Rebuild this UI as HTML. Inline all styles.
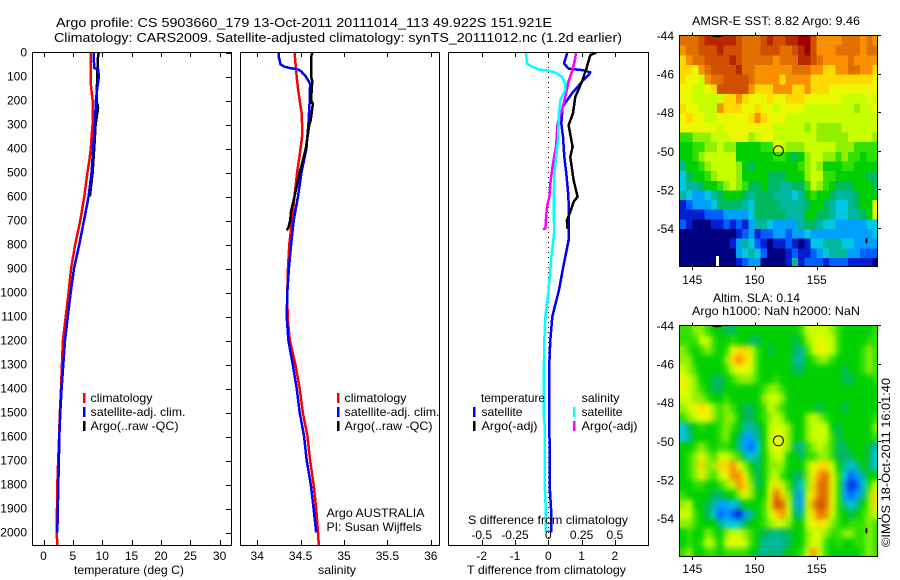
<!DOCTYPE html>
<html><head><meta charset="utf-8"><title>Argo profile</title>
<style>
html,body{margin:0;padding:0;background:#fff;width:900px;height:580px;overflow:hidden}
svg{display:block}
text{font-family:"Liberation Sans",sans-serif;font-size:12px;fill:#000}
</style></head>
<body>
<svg id="fig" xmlns="http://www.w3.org/2000/svg" width="900" height="580" viewBox="0 0 900 580">
<defs>
<clipPath id="cp1"><rect x="32" y="52" width="200" height="494"/></clipPath>
<clipPath id="cp2"><rect x="240" y="52" width="200" height="494"/></clipPath>
<clipPath id="cp3"><rect x="448" y="52" width="200" height="494"/></clipPath>
<clipPath id="cm1"><rect x="679.5" y="36" width="198" height="231"/></clipPath>
<clipPath id="cm2"><rect x="679.5" y="326" width="198" height="231"/></clipPath>
<filter id="smooth" x="660" y="306" width="240" height="270" filterUnits="userSpaceOnUse" color-interpolation-filters="sRGB">
<feGaussianBlur in="SourceGraphic" stdDeviation="2.6" result="b"/>
<feMerge><feMergeNode in="SourceGraphic"/><feMergeNode in="b"/></feMerge>
</filter>
</defs>
<g>
<text x="56" y="27" style="font-size:13px" textLength="496" lengthAdjust="spacingAndGlyphs">Argo profile: CS 5903660_179 13-Oct-2011 20111014_113 49.922S 151.921E</text>
<text x="54" y="42" style="font-size:13px" textLength="568" lengthAdjust="spacingAndGlyphs">Climatology: CARS2009. Satellite-adjusted climatology: synTS_20111012.nc (1.2d earlier)</text>
</g>
<g id="plots"></g>
<g>
<text x="74" y="574" textLength="110" lengthAdjust="spacingAndGlyphs">temperature (deg C)</text>
<text x="318" y="574" textLength="38" lengthAdjust="spacingAndGlyphs">salinity</text>
<text x="467" y="574" textLength="159" lengthAdjust="spacingAndGlyphs">T difference from climatology</text>
<text x="468" y="524" textLength="160" lengthAdjust="spacingAndGlyphs">S difference from climatology</text>
</g>
<g>
<rect x="83" y="393" width="2.5" height="10" fill="#f00"/>
<rect x="83" y="407" width="2.5" height="10" fill="#00f"/>
<rect x="83" y="421" width="2.5" height="10" fill="#000"/>
<text x="90.5" y="402" textLength="62" lengthAdjust="spacingAndGlyphs">climatology</text>
<text x="90.5" y="416" textLength="95" lengthAdjust="spacingAndGlyphs">satellite-adj. clim.</text>
<text x="90.5" y="430" textLength="88" lengthAdjust="spacingAndGlyphs">Argo(..raw -QC)</text>
</g>
<g>
<rect x="337" y="393" width="2.5" height="10" fill="#f00"/>
<rect x="337" y="407" width="2.5" height="10" fill="#00f"/>
<rect x="337" y="421" width="2.5" height="10" fill="#000"/>
<text x="344.5" y="402" textLength="62" lengthAdjust="spacingAndGlyphs">climatology</text>
<text x="344.5" y="416" textLength="95" lengthAdjust="spacingAndGlyphs">satellite-adj. clim.</text>
<text x="344.5" y="430" textLength="88" lengthAdjust="spacingAndGlyphs">Argo(..raw -QC)</text>
<text x="326.5" y="517" textLength="98" lengthAdjust="spacingAndGlyphs">Argo AUSTRALIA</text>
<text x="326.5" y="531" textLength="95" lengthAdjust="spacingAndGlyphs">PI: Susan Wijffels</text>
</g>
<g>
<text x="481" y="402" textLength="64" lengthAdjust="spacingAndGlyphs">temperature</text>
<text x="581.5" y="402" textLength="38" lengthAdjust="spacingAndGlyphs">salinity</text>
<rect x="473" y="407" width="2.5" height="10" fill="#00f"/>
<rect x="473" y="421" width="2.5" height="10" fill="#000"/>
<rect x="573" y="407" width="2.5" height="10" fill="#0ff"/>
<rect x="573" y="421" width="2.5" height="10" fill="#f0f"/>
<text x="481.5" y="416" textLength="41" lengthAdjust="spacingAndGlyphs">satellite</text>
<text x="481.5" y="430" textLength="56" lengthAdjust="spacingAndGlyphs">Argo(-adj)</text>
<text x="581.5" y="416" textLength="41" lengthAdjust="spacingAndGlyphs">satellite</text>
<text x="581.5" y="430" textLength="56" lengthAdjust="spacingAndGlyphs">Argo(-adj)</text>
</g>
<g>
<text x="692" y="25" textLength="168" lengthAdjust="spacingAndGlyphs">AMSR-E SST: 8.82 Argo: 9.46</text>
<text x="713" y="302" textLength="87" lengthAdjust="spacingAndGlyphs">Altim. SLA: 0.14</text>
<text x="692" y="315" textLength="168" lengthAdjust="spacingAndGlyphs">Argo h1000: NaN h2000: NaN</text>
</g>
<text transform="translate(890,547) rotate(-90)" textLength="169" lengthAdjust="spacingAndGlyphs">©IMOS 18-Oct-2011 16:01:40</text>
</svg>
<script>
// ---------- axis tick data ----------
const depthTicks = [0,100,200,300,400,500,600,700,800,900,1000,1100,1200,1300,1400,1500,1600,1700,1800,1900,2000];
const tempTicks = [0,5,10,15,20,25,30];
const salTicks = [34,34.5,35,35.5,36];
const salTickLabels = ['34','34.5','35','35.5','36'];
const tDiffTicks = [-2,-1,0,1,2];
const sDiffTicks = [-0.5,-0.25,0,0.25,0.5];
const sDiffTickLabels = ['-0.5','-0.25','0','0.25','0.5'];
const lonTicks = [145,150,155];
const latTicks = [-44,-46,-48,-50,-52,-54];
// ---------- temperature profiles ----------
const tempClimDepth = [0,100,130,200,300,350,400,450,500,600,700,800,900,1000,1200,1400,1500,1600,1800,2000,2054];
const tempClim = [8.0,8.0,8.05,8.36,8.36,8.2,8.05,7.8,7.5,6.95,6.27,5.4,4.7,4.28,3.3,2.98,2.8,2.65,2.35,2.25,2.35];
const tempSatDepth = [0,65,70,100,150,200,300,400,500,600,700,800,900,1000,1200,1400,1500,1600,1700,1800,1950,2000];
const tempSat = [8.53,8.64,9.3,9.44,9.15,8.93,8.76,8.47,8.2,7.68,6.9,6.1,5.19,4.63,3.66,3.09,2.86,2.69,2.63,2.52,2.41,2.35];
const tempArgoDepth = [0,10,100,200,230,300,400,500,600];
const tempArgo = [9.44,9.3,9.15,9.04,9.3,8.87,8.64,8.36,7.9];
// ---------- salinity profiles ----------
const salClimDepth = [0,100,150,200,250,300,350,400,450,500,600,700,800,900,1000,1100,1200,1300,1400,1500,1600,1700,1800,1900,2000,2054];
const salClim = [34.43,34.455,34.47,34.49,34.51,34.517,34.517,34.5,34.48,34.46,34.43,34.4,34.37,34.355,34.347,34.35,34.375,34.44,34.49,34.525,34.58,34.61,34.65,34.68,34.7,34.71];
const salSatDepth = [0,20,50,60,65,70,80,100,130,200,300,400,500,600,700,800,900,1000,1100,1200,1300,1400,1500,1600,1700,1800,1900,2000];
const salSat = [34.247,34.25,34.27,34.32,34.38,34.47,34.51,34.56,34.61,34.605,34.59,34.567,34.51,34.47,34.42,34.39,34.365,34.347,34.34,34.36,34.41,34.455,34.49,34.54,34.57,34.617,34.65,34.68];
const salArgoDepth = [0,20,100,120,200,215,280,300,400,450,500,600,660,700,730,740];
const salArgo = [34.636,34.62,34.62,34.635,34.62,34.64,34.617,34.6,34.56,34.525,34.49,34.43,34.39,34.38,34.36,34.34];
// ---------- difference profiles ----------
const tDiffSatDepth = [0,46,67,74,83,94,122,171,226,296,351,435,504,574,643,782,851,921,990,1100,1200,1300,1400,1700,1800,1900,2000];
const tDiffSat = [0.57,0.47,0.61,1.06,1.26,1.21,1.01,0.71,0.43,0.39,0.44,0.48,0.54,0.59,0.62,0.61,0.51,0.41,0.32,0.12,0.06,0.03,0.03,0.04,0.04,0.08,0.08];
const tDiffArgoDepth = [0,11,60,122,185,254,303,393,435,532,601,622,664,699,736];
const tDiffArgo = [1.44,1.26,1.16,1.01,0.81,0.74,0.61,0.73,0.66,0.76,0.88,0.76,0.66,0.56,0.58];
const sDiffSatDepth = [0,46,57,71,76,83,101,129,157,199,254,365,504,643,747,851,990,1100,1200,1400,1500,1550,1800,1850,2000];
const sDiffSat = [-0.167,-0.16,-0.13,-0.07,0,0.05,0.1,0.13,0.128,0.09,0.08,0.073,0.045,0.04,0.045,0.023,0.0025,-0.022,-0.03,-0.035,-0.035,-0.028,-0.028,-0.022,-0.017];
const sDiffArgoDepth = [0,32,74,122,185,240,296,393,462,532,601,629,671,733,737];
const sDiffArgo = [0.208,0.2,0.18,0.152,0.128,0.103,0.07,0.058,0.035,0.018,0.008,-0.005,-0.015,-0.022,-0.04];
// ---------- map data: colour levels on a 0.5-degree grid, north to south ----------
const mapLonStart = 144;
const mapLatStart = -44;
const mapStep = 0.5;
const argoLon = 151.921;
const argoLat = -49.922;
const levelColors = ['#000080','#0020d0','#0060ff','#00a0ff','#00c8e0','#00b8a0','#00b860','#00d000','#30e000','#90f000','#c8ff00','#ecf800','#ffd800','#f89000','#e07000','#d05000','#b82800','#a00000'];
const sstLevels = [
[14,14,14,15,16,16,16,16,16,15,14,14,14,15,16,15,15,16,16,17,17,15,13,13,13,13,14,14,14,13,14,13],
[13,14,14,15,15,15,16,15,15,15,14,14,14,15,15,15,14,14,15,16,17,15,13,13,13,14,14,14,14,13,14,14],
[12,13,14,14,15,15,15,15,16,15,14,14,14,14,14,13,14,14,14,16,16,15,14,13,13,13,13,14,13,13,13,13],
[12,12,11,13,14,15,15,15,15,16,14,14,13,13,13,13,13,13,14,14,14,13,13,12,12,13,13,14,14,13,13,12],
[12,11,11,10,13,14,14,15,15,15,15,14,13,13,13,13,12,13,13,13,13,12,12,12,12,12,12,12,12,12,12,11],
[11,11,10,10,11,12,15,15,15,15,15,13,12,12,12,13,13,13,12,12,13,12,12,12,11,11,11,11,11,11,11,11],
[11,11,10,10,10,10,10,12,12,13,12,11,11,11,12,11,11,12,12,12,11,11,11,11,11,11,10,10,10,10,11,10],
[12,11,11,10,10,10,13,12,12,12,11,11,12,11,11,10,11,11,11,11,10,10,10,10,10,10,10,10,9,10,10,11],
[11,12,11,11,10,10,11,11,11,11,11,12,13,12,11,11,11,10,10,10,10,10,10,10,10,10,10,10,10,10,10,10],
[11,11,11,11,11,11,10,11,11,11,11,11,11,11,11,10,10,10,10,10,9,10,9,9,9,9,10,10,10,10,10,10],
[8,8,9,9,9,10,10,10,11,11,11,9,10,11,11,10,10,10,10,10,10,10,9,9,9,9,9,10,10,10,10,9],
[7,7,8,8,9,9,10,9,9,7,7,7,7,8,8,11,10,9,9,9,10,10,10,10,10,9,9,9,8,8,8,8],
[7,7,8,9,10,10,10,10,10,7,7,7,7,7,7,8,8,7,6,7,9,10,10,9,9,8,9,8,8,7,8,8],
[5,7,7,8,9,10,10,10,10,9,7,6,7,7,7,7,7,7,7,8,9,10,9,7,7,7,8,8,7,7,7,7],
[4,6,7,7,8,9,10,10,10,9,7,7,7,7,6,6,6,7,7,7,9,10,10,8,8,7,7,7,7,7,6,6],
[4,5,5,6,7,7,8,9,10,9,8,6,6,7,6,6,5,5,6,6,8,10,9,8,7,6,6,6,7,7,7,6],
[5,4,3,3,4,5,6,7,7,7,6,5,6,6,6,5,5,5,4,5,7,8,7,7,6,5,5,5,6,7,7,7],
[1,2,3,3,3,4,6,6,6,6,5,4,6,6,6,6,5,5,5,5,6,7,7,6,5,4,4,5,6,7,7,11],
[1,1,1,1,2,2,2,3,3,3,3,4,6,6,6,6,6,5,5,5,7,7,6,6,5,4,4,5,5,6,7,11],
[2,1,0,0,0,1,1,2,1,2,1,3,5,5,4,3,3,3,3,5,6,6,5,4,4,3,3,3,3,3,4,4],
[0,0,0,0,0,0,0,0,0,1,2,3,1,2,2,3,3,2,3,3,4,3,3,3,3,3,3,3,3,3,3,4],
[0,0,0,0,0,0,0,0,1,3,5,4,2,1,0,1,1,2,1,0,1,4,4,5,5,5,4,4,3,3,3,3],
[0,0,0,0,0,0,0,0,0,3,4,5,4,2,0,0,0,1,2,1,1,2,3,4,5,5,5,3,3,2,2,2],
[0,0,0,0,0,0,0,0,0,1,2,3,3,0,0,0,0,1,5,1,2,2,2,1,2,2,2,1,1,1,1,0]
];
const slaLevels = [
[8,8,9,9,8,7,7,6,6,7,7,7,7,7,7,7,7,7,7,8,10,10,10,10,9,8,7,7,7,7,7,8],
[8,8,8,10,10,8,7,7,8,7,7,6,6,7,7,7,7,7,6,7,9,10,11,10,10,8,7,7,7,7,8,8],
[9,8,7,8,9,8,7,8,11,12,12,10,8,7,6,7,7,7,6,5,8,10,11,11,10,8,7,7,7,8,9,8],
[9,9,7,7,7,7,7,9,12,13,12,11,8,7,7,7,7,7,5,5,7,8,9,9,8,7,7,7,7,8,9,8],
[10,9,8,7,7,7,7,8,10,11,11,10,8,7,7,7,7,7,6,6,7,7,7,7,7,7,6,7,7,8,9,8],
[11,10,9,7,7,6,6,7,8,9,9,9,8,7,7,8,7,7,7,7,7,7,7,7,7,7,6,6,7,7,7,8],
[11,10,9,8,7,6,6,7,7,7,7,7,7,8,9,9,8,7,7,7,7,7,7,7,7,7,7,7,7,7,7,7],
[10,10,9,9,8,7,7,8,7,7,7,7,7,9,10,10,9,7,7,7,7,7,7,7,7,7,7,7,7,7,7,7],
[9,10,11,12,11,9,8,9,8,7,6,6,7,8,10,9,8,7,7,7,7,7,6,7,7,7,6,7,7,7,7,7],
[8,9,10,11,11,9,8,9,9,7,6,6,7,8,9,10,9,7,7,7,9,10,9,8,7,7,7,7,7,7,7,8],
[4,6,7,8,7,7,8,9,8,7,5,5,6,7,10,10,10,9,7,7,9,10,10,10,7,6,7,7,7,7,7,9],
[4,5,7,7,7,7,8,9,7,6,3,3,5,7,10,11,11,9,7,7,9,10,10,10,8,6,7,7,7,7,7,8],
[7,7,8,9,8,7,8,8,7,5,3,2,4,7,10,11,10,9,6,5,8,9,10,9,8,6,6,7,7,7,6,5],
[7,8,9,11,9,8,10,10,9,8,5,4,5,7,9,10,10,7,7,6,8,8,9,9,8,6,6,6,7,7,6,4],
[7,8,9,12,9,9,12,12,13,11,9,7,6,7,9,9,9,7,7,7,9,11,12,12,10,7,5,4,5,7,6,4],
[7,8,9,11,9,8,10,11,13,13,11,8,6,7,9,10,8,7,6,6,9,11,13,14,11,8,4,2,3,5,7,7],
[7,7,8,8,7,7,8,9,10,13,12,9,6,7,10,12,10,8,6,4,9,12,14,14,11,8,3,1,2,4,8,10],
[8,7,7,7,7,6,6,7,7,9,11,9,7,7,11,14,12,9,5,3,10,12,14,14,11,8,3,2,3,5,9,12],
[9,10,7,7,6,5,3,3,4,5,7,7,7,8,11,15,14,10,5,3,10,13,15,14,11,8,5,4,5,7,9,12],
[10,10,8,7,6,4,2,3,2,1,3,5,7,8,10,12,13,10,6,5,10,12,14,13,10,8,7,6,7,8,9,10],
[9,9,8,7,7,7,5,4,4,4,6,7,7,8,9,10,10,9,7,7,10,11,12,11,9,8,7,8,8,8,9,8],
[7,8,7,7,9,8,7,9,10,10,9,8,7,6,6,5,6,6,7,7,9,10,10,9,8,8,9,9,8,8,9,8],
[7,8,7,8,10,9,7,10,11,11,10,8,7,5,5,5,5,6,7,7,9,11,10,8,7,8,7,7,8,8,9,8],
[8,9,7,7,8,8,7,8,8,8,8,7,6,5,6,5,6,7,7,8,10,13,10,8,7,7,7,7,7,8,9,8]
];
// ---------- axis functions ----------
const depthY = d => 52.5 + d * 0.24;
const tempX = t => 43.5 + t * 5.87;
const salX = s => 257.2 + (s - 34) * 86.8;
const tDiffX = t => 548.3 + t * 33.3;
const sDiffX = s => 548.3 + s * 4 * 33.3;
const lonX = lon => 692.3 + (lon - 145) * 12.44;
const latY1 = lat => 36 + (-44 - lat) * 19.3;
const latY2 = lat => 326 + (-44 - lat) * 19.3;

const root = document.getElementById('plots');
const NS = 'http://www.w3.org/2000/svg';
function make(tag, attrs, parent) {
  const e = document.createElementNS(NS, tag);
  for (const k in attrs) e.setAttribute(k, attrs[k]);
  parent.appendChild(e);
  return e;
}
function tickLine(parent, x1, y1, x2, y2) {
  const t = make('line', {x1: x1, y1: y1, x2: x2, y2: y2, stroke: '#000', 'stroke-width': 1, 'shape-rendering': 'crispEdges'}, parent);
  
  
  return t;
}
function tickText(parent, x, y, anchor, str) {
  const t = make('text', {x: x, y: y, 'text-anchor': anchor}, parent);
  
  
  t.textContent = str;
  return t;
}
function frame(parent, x0, y0, x1, y1) {
  const f = make('rect', {x: x0, y: y0, width: x1 - x0, height: y1 - y0, fill: 'none', stroke: '#000', 'stroke-width': 1, 'shape-rendering': 'crispEdges'}, parent);
  
  
}
function profile(parent, name, depths, values, xf, color) {
  const pts = depths.map((d, i) => xf(values[i]).toFixed(1) + ',' + depthY(d).toFixed(1)).join(' ');
  const p = make('polyline', {points: pts, fill: 'none', stroke: color, 'stroke-width': 2.5, 'stroke-linejoin': 'round', 'shape-rendering': 'crispEdges'}, parent);
  
  
}
function panel(name, clipId, x0, x1) {
  const g = make('g', {}, root);
  
  
  const c = make('g', {'clip-path': 'url(#' + clipId + ')'}, g);
  
  
  frame(g, x0, 52.5, x1, 545.5);
  return {g: g, c: c};
}
// ---------- temperature panel ----------
const p1 = panel('temperature-panel', 'cp1', 32.5, 231.5);
profile(p1.c, 'temperature-climatology-line', tempClimDepth, tempClim, tempX, '#f00');
profile(p1.c, 'temperature-argo-line', tempArgoDepth, tempArgo, tempX, '#000');
profile(p1.c, 'temperature-satellite-line', tempSatDepth, tempSat, tempX, '#00f');
depthTicks.forEach(d => {
  tickLine(p1.g, 226, Math.round(depthY(d)) + 0.5, 231, Math.round(depthY(d)) + 0.5);
  tickText(p1.g, 27, depthY(d) + 4, 'end', String(d));
});
tempTicks.forEach(t => {
  const x = Math.round(tempX(t)) + 0.5;
  tickLine(p1.g, x, 52, x, 57);
  tickLine(p1.g, x, 540, x, 545);
  tickText(p1.g, tempX(t), 560, 'middle', String(t));
});
// ---------- salinity panel ----------
const p2 = panel('salinity-panel', 'cp2', 240.5, 439.5);
profile(p2.c, 'salinity-climatology-line', salClimDepth, salClim, salX, '#f00');
profile(p2.c, 'salinity-satellite-line', salSatDepth, salSat, salX, '#00f');
profile(p2.c, 'salinity-argo-line', salArgoDepth, salArgo, salX, '#000');
salTicks.forEach((s, i) => {
  const x = Math.round(salX(s)) + 0.5;
  tickLine(p2.g, x, 52, x, 57);
  tickLine(p2.g, x, 540, x, 545);
  tickText(p2.g, salX(s), 560, 'middle', salTickLabels[i]);
});
// ---------- difference panel ----------
const p3 = panel('difference-panel', 'cp3', 448.5, 648.5);
const zero = make('line', {x1: 548.5, y1: 52, x2: 548.5, y2: 545, stroke: '#000', 'stroke-width': 1, 'stroke-dasharray': '1 4', 'shape-rendering': 'crispEdges'}, p3.c);


profile(p3.c, 't-difference-satellite-line', tDiffSatDepth, tDiffSat, tDiffX, '#00f');
profile(p3.c, 't-difference-argo-line', tDiffArgoDepth, tDiffArgo, tDiffX, '#000');
profile(p3.c, 's-difference-argo-line', sDiffArgoDepth, sDiffArgo, sDiffX, '#f0f');
profile(p3.c, 's-difference-satellite-line', sDiffSatDepth, sDiffSat, sDiffX, '#0ff');
tDiffTicks.forEach(t => {
  const x = Math.round(tDiffX(t)) + 0.5;
  tickLine(p3.g, x, 52, x, 57);
  tickLine(p3.g, x, 540, x, 545);
  tickText(p3.g, tDiffX(t), 560, 'middle', String(t));
});
sDiffTicks.forEach((s, i) => {
  tickText(p3.g, sDiffX(s), 539, 'middle', sDiffTickLabels[i]);
});
// ---------- maps ----------
function drawMap(name, clipId, levels, latY, labelY, smooth) {
  const g = make('g', {}, root);
  
  
  const c = make('g', {'clip-path': 'url(#' + clipId + ')'}, g);
  
  
  const cells = make('g', {'shape-rendering': 'crispEdges'}, c);
  
  
  if (smooth) cells.setAttribute('filter', 'url(#smooth)');
  levels.forEach((row, r) => {
    row.forEach((v, i) => {
      const x0 = lonX(mapLonStart + i * mapStep);
      const x1 = lonX(mapLonStart + (i + 1) * mapStep);
      const y0 = latY(mapLatStart - r * mapStep);
      const y1 = latY(mapLatStart - (r + 1) * mapStep);
      const cell = make('rect', {x: x0, y: y0, width: x1 - x0 + 0.6, height: y1 - y0 + 0.6, fill: levelColors[v]}, cells);
      
      
    });
  });
  const coast = make('ellipse', {cx: lonX(159), cy: latY(-54.6), rx: 1, ry: 3, fill: '#000'}, g);
  
  
  const coastTop = make('ellipse', {cx: lonX(147), cy: latY(-44), rx: 5, ry: 1.2, fill: '#000'}, c);
  
  
  const mark = make('circle', {cx: lonX(argoLon), cy: latY(argoLat) + 0.5, r: 5, fill: 'none', stroke: '#000', 'stroke-width': 1}, g);
  
  
  const top = latY(mapLatStart);
  const bot = latY(mapLatStart) + 231;
  frame(g, 679.5, Math.round(top) - 0.5, 877.5, Math.round(bot) - 0.5);
  lonTicks.forEach(l => {
    const x = Math.round(lonX(l)) + 0.5;
    tickLine(g, x, top - 3.5, x, top);
    tickLine(g, x, bot, x, bot + 3);
    tickText(g, lonX(l), labelY, 'middle', String(l));
  });
  latTicks.forEach(l => {
    const y = Math.round(latY(l)) - 0.5;
    tickLine(g, 877, y, 881, y);
    tickText(g, 674, latY(l) + 4, 'end', String(l));
  });
}
drawMap('sst-map', 'cm1', sstLevels, latY1, 284, false);
drawMap('sla-map', 'cm2', slaLevels, latY2, 573, true);
const gap = make('rect', {x: 716, y: 256, width: 3, height: 10, fill: '#fff'}, root);


</script>
</body></html>
